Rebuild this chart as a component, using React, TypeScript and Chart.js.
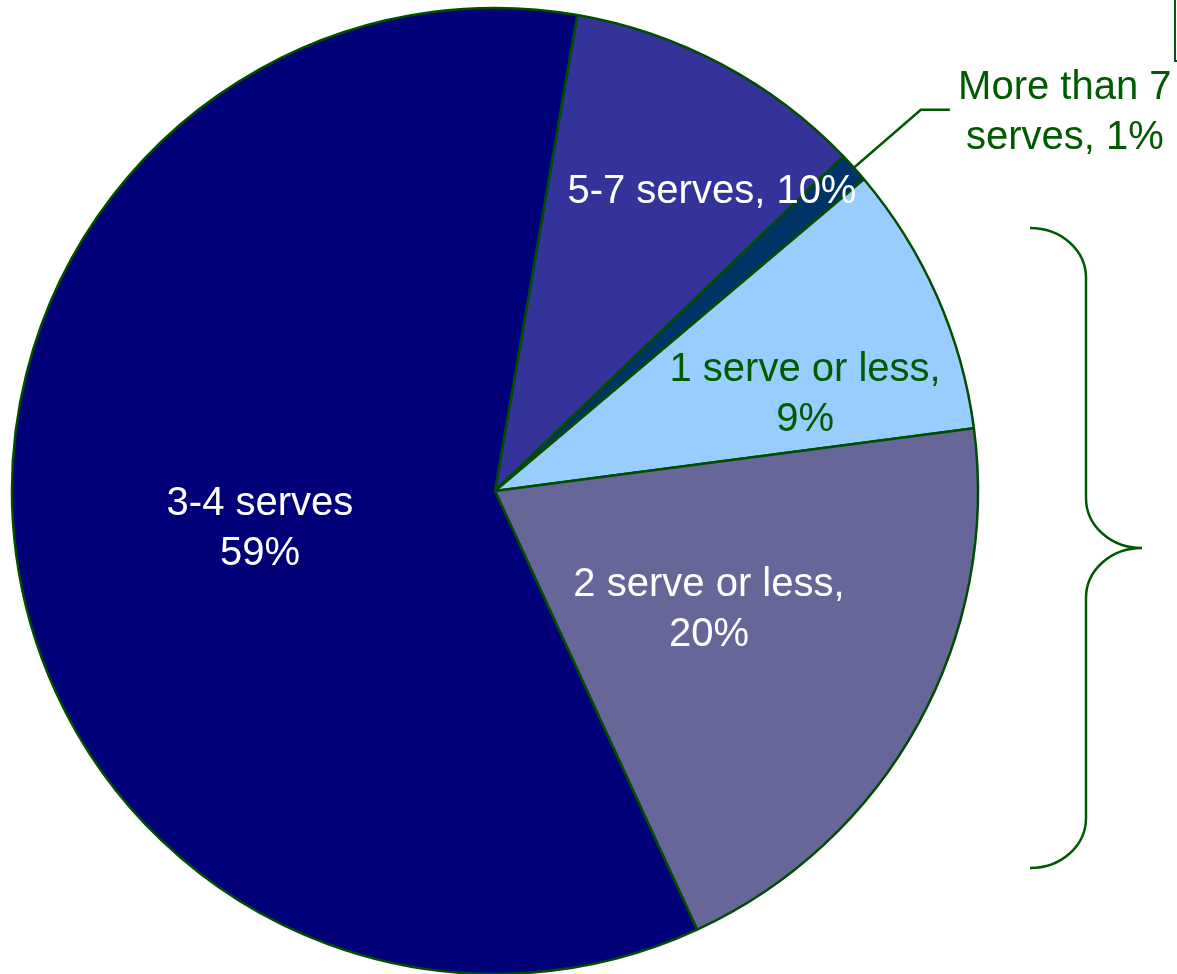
import React, { useEffect, useRef } from "react";
import { Chart, registerables } from "chart.js";

Chart.register(...registerables);

// ---- Data ----
const categories = ["5-7 serves", "More than 7 serves", "1 serve or less", "2 serve or less", "3-4 serves"];
const values = [10, 1, 9, 20, 59];
const labelLines = [
  ["5-7 serves, 10%"],
  ["More than 7", "serves, 1%"],
  ["1 serve or less,", "9%"],
  ["2 serve or less,", "20%"],
  ["3-4 serves", "59%"],
];

// ---- Styles ----
const sliceColors = ["#333399", "#003366", "#99CCFF", "#666699", "#000078"];
const labelColors = ["#ffffff", "#005a00", "#005a00", "#ffffff", "#ffffff"];
const borderColor = "#004d00";
const annotColor = "#005a00";
const FONT = '40px "Liberation Sans", Arial, sans-serif';
const LINE_H = 50;
// label placement: [radius fraction, angle shift in degrees]; null => outside with leader
const labelPlace: ([number, number] | null)[] = [[0.77, 7.7], null, [0.674, 6.1], [0.504, -0.4], [0.492, -1]];

const labelPlugin = {
  id: "sliceLabels",
  afterDraw(chart: any) {
    const ctx = chart.ctx as CanvasRenderingContext2D;
    const meta = chart.getDatasetMeta(0);
    ctx.save();
    ctx.font = FONT;
    meta.data.forEach((arc: any, i: number) => {
      const { x, y, startAngle, endAngle, outerRadius } = arc.getProps(
        ["x", "y", "startAngle", "endAngle", "outerRadius"],
        true
      );
      const mid = (startAngle + endAngle) / 2;
      const lines = labelLines[i];
      ctx.fillStyle = labelColors[i];
      ctx.textAlign = "center";
      ctx.textBaseline = "alphabetic";
      const place = labelPlace[i];
      if (place) {
        const a = mid + (place[1] * Math.PI) / 180;
        const r = outerRadius * place[0];
        const cx = x + r * Math.cos(a);
        const cy = y + r * Math.sin(a);
        const capH = 40 * 0.716;
        const blockH = capH + LINE_H * (lines.length - 1);
        const b0 = cy - blockH / 2 + capH;
        lines.forEach((t, k) => ctx.fillText(t, cx, b0 + k * LINE_H));
      } else {
        // leader line
        const sx = x + outerRadius * Math.cos(mid);
        const sy = y + outerRadius * Math.sin(mid);
        const ex = sx + 67;
        const ey = sy - 58;
        const fx = ex + 29;
        ctx.strokeStyle = annotColor;
        ctx.lineWidth = 2.5;
        ctx.beginPath();
        ctx.moveTo(sx, sy);
        ctx.lineTo(ex, ey);
        ctx.lineTo(fx, ey);
        ctx.stroke();
        const tx = fx + 115;
        lines.forEach((t, k) => ctx.fillText(t, tx, ey - 11 + k * LINE_H));
      }
    });

    // curly brace on the right
    ctx.strokeStyle = annotColor;
    ctx.lineWidth = 2.5;
    ctx.beginPath();
    const bx0 = 1030, bx1 = 1086, bx2 = 1142;
    const top = 228, tip = 548, bot = 868, c = 50;
    ctx.moveTo(bx0, top);
    ctx.bezierCurveTo(bx0 + 31, top, bx1, top + 22, bx1, top + c);
    ctx.lineTo(bx1, tip - c);
    ctx.bezierCurveTo(bx1, tip - 22, bx1 + 25, tip, bx2, tip);
    ctx.bezierCurveTo(bx1 + 25, tip, bx1, tip + 22, bx1, tip + c);
    ctx.lineTo(bx1, bot - c);
    ctx.bezierCurveTo(bx1, bot - 22, bx0 + 31, bot, bx0, bot);
    ctx.stroke();

    // top-right bracket fragment
    ctx.lineWidth = 2;
    ctx.beginPath();
    ctx.moveTo(1175, 0);
    ctx.lineTo(1175, 61);
    ctx.lineTo(1180, 61);
    ctx.stroke();
    ctx.restore();
  },
};

export default function App() {
  const ref = useRef<HTMLCanvasElement | null>(null);
  useEffect(() => {
    if (!ref.current) return;
    const chart = new Chart(ref.current, {
      type: "pie",
      data: {
        labels: categories,
        datasets: [
          {
            data: values,
            backgroundColor: sliceColors,
            borderColor: borderColor,
            borderWidth: 2.5,
          },
        ],
      },
      options: {
        responsive: false,
        animation: false,
        devicePixelRatio: 1,
        rotation: 9.8,
        radius: 483,
        layout: { padding: { left: 12, right: 199, top: 8, bottom: 0 } },
        plugins: { legend: { display: false }, tooltip: { enabled: false } },
      } as any,
      plugins: [labelPlugin],
    });
    return () => chart.destroy();
  }, []);
  return (
    <div style={{ position: "absolute", left: 0, top: 0, width: 1177, height: 974, background: "#fff" }}>
      <canvas ref={ref} width={1177} height={974} />
    </div>
  );
}
